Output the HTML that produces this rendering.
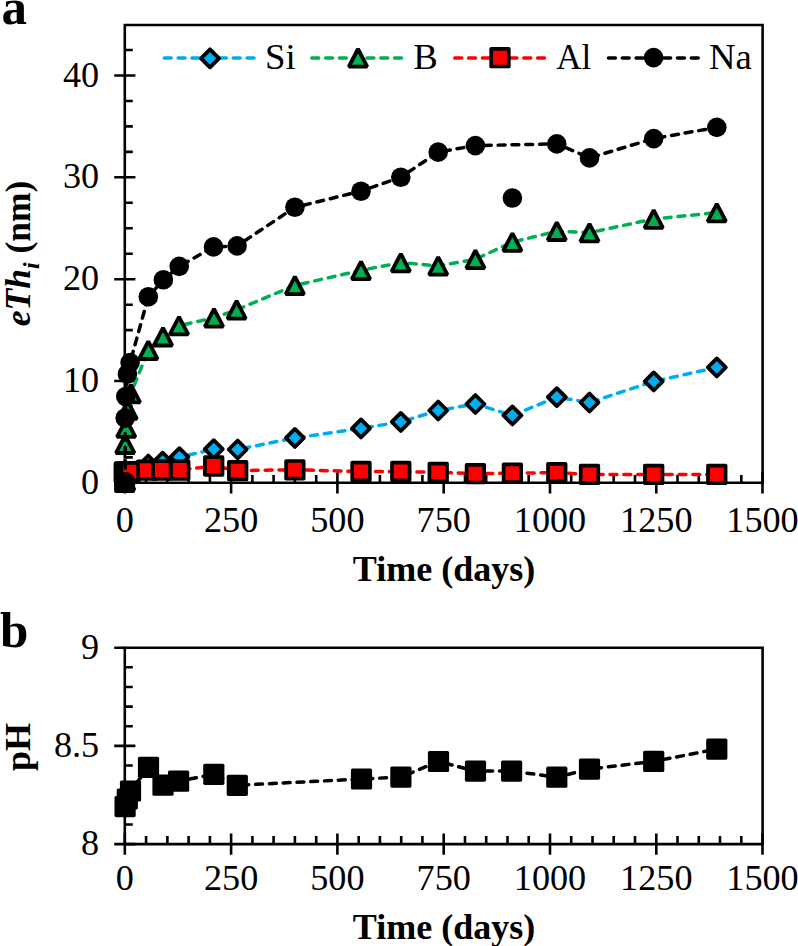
<!DOCTYPE html><html><head><meta charset="utf-8"><style>
html,body{margin:0;padding:0;background:#fff;}
svg{display:block;}
text{font-family:"Liberation Serif", serif;fill:#000;}
.t{font-size:35px;}
.ax{stroke:#000;stroke-width:2.6;fill:none;stroke-linecap:butt;}
.ls{fill:none;stroke:#00ACF0;stroke-width:3.5;stroke-dasharray:6.9 6.9;stroke-linecap:round;stroke-linejoin:round;}
.lb{fill:none;stroke:#00B050;stroke-width:3.5;stroke-dasharray:6.9 6.9;stroke-linecap:round;stroke-linejoin:round;}
.la{fill:none;stroke:#FF0000;stroke-width:3.5;stroke-dasharray:6.9 6.9;stroke-linecap:round;stroke-linejoin:round;}
.ln{fill:none;stroke:#000;stroke-width:3.5;stroke-dasharray:6.9 6.9;stroke-linecap:round;stroke-linejoin:round;}
.si{fill:#00ACF0;stroke:#000;stroke-width:3.8;stroke-linejoin:round;}
.b{fill:#00B050;stroke:#000;stroke-width:3.8;stroke-linejoin:bevel;}
.al{fill:#FF0000;stroke:#000;stroke-width:3.7;stroke-linejoin:round;}
.na{fill:#000;}.al0{fill:#000;stroke:#000;stroke-width:3.4;stroke-linejoin:round;}
.ph{fill:#000;stroke:#000;stroke-width:1;}
</style></head><body>
<svg width="798" height="946" viewBox="0 0 798 946">
<path class="ax" d="M124.8 25H762.6V482.7H124.8Z"/>
<path class="ax" d="M114.2 482.9H135.4M124.8 457.4H132.8M124.8 432.0H132.8M124.8 406.5H132.8M114.2 381.0H135.4M124.8 355.6H132.8M124.8 330.1H132.8M124.8 304.7H132.8M114.2 279.2H135.4M124.8 253.7H132.8M124.8 228.3H132.8M124.8 202.8H132.8M114.2 177.3H135.4M124.8 151.9H132.8M124.8 126.4H132.8M124.8 101.0H132.8M114.2 75.5H135.4M124.8 50.0H132.8M124.8 472.3V493.5M146.1 482.9V474.9M167.4 482.9V474.9M188.6 482.9V474.9M209.9 482.9V474.9M231.1 472.3V493.5M252.4 482.9V474.9M273.6 482.9V474.9M294.9 482.9V474.9M316.2 482.9V474.9M337.4 472.3V493.5M358.7 482.9V474.9M379.9 482.9V474.9M401.2 482.9V474.9M422.4 482.9V474.9M443.7 472.3V493.5M465.0 482.9V474.9M486.2 482.9V474.9M507.5 482.9V474.9M528.7 482.9V474.9M550.0 472.3V493.5M571.2 482.9V474.9M592.5 482.9V474.9M613.7 482.9V474.9M635.0 482.9V474.9M656.3 472.3V493.5M677.5 482.9V474.9M698.8 482.9V474.9M720.0 482.9V474.9M741.3 482.9V474.9M762.5 472.3V493.5"/>
<text class="t" transform="translate(99.2,493.9) scale(1.035,1)" text-anchor="end">0</text>
<text class="t" transform="translate(99.2,392.0) scale(1.035,1)" text-anchor="end">10</text>
<text class="t" transform="translate(99.2,290.2) scale(1.035,1)" text-anchor="end">20</text>
<text class="t" transform="translate(99.2,188.3) scale(1.035,1)" text-anchor="end">30</text>
<text class="t" transform="translate(99.2,86.5) scale(1.035,1)" text-anchor="end">40</text>
<text class="t" transform="translate(124.8,531.9) scale(1.035,1)" text-anchor="middle">0</text>
<text class="t" transform="translate(231.1,531.9) scale(1.035,1)" text-anchor="middle">250</text>
<text class="t" transform="translate(337.4,531.9) scale(1.035,1)" text-anchor="middle">500</text>
<text class="t" transform="translate(443.7,531.9) scale(1.035,1)" text-anchor="middle">750</text>
<text class="t" transform="translate(550.0,531.9) scale(1.035,1)" text-anchor="middle">1000</text>
<text class="t" transform="translate(656.3,531.9) scale(1.035,1)" text-anchor="middle">1250</text>
<text class="t" transform="translate(762.5,531.9) scale(1.035,1)" text-anchor="middle">1500</text>
<text x="444" y="580.5" text-anchor="middle" style="font-size:36px;font-weight:bold">Time (days)</text>
<text transform="translate(29.5,326.3) rotate(-90)" style="font-size:35.5px;font-weight:bold"><tspan style="font-style:italic">eTh</tspan><tspan style="font-style:italic;font-size:24px" dy="9">i</tspan><tspan dy="-9"> (nm)</tspan></text>
<text x="1.5" y="24.2" style="font-size:51px;font-weight:bold">a</text>
<text x="0" y="647" style="font-size:51px;font-weight:bold">b</text>
<polyline points="125.3,479.0 126.0,478.0 127.0,477.0 128.5,475.0 131.0,473.0 137.0,471.0 148.3,464.6 162.6,461.7 179.4,457.2 213.7,449.2 237.7,449.5 294.9,437.9 361.0,428.4 400.8,421.9 438.2,410.5 475.4,404.0 512.4,415.4 556.8,397.2 589.5,402.5 653.7,381.4 716.8,367.4" class="ls"/>
<path d="M125.3 470.0L134.3 479.0L125.3 488.0L116.3 479.0Z" class="si"/><path d="M126.0 469.0L135.0 478.0L126.0 487.0L117.0 478.0Z" class="si"/><path d="M127.0 468.0L136.0 477.0L127.0 486.0L118.0 477.0Z" class="si"/><path d="M128.5 466.0L137.5 475.0L128.5 484.0L119.5 475.0Z" class="si"/><path d="M131.0 464.0L140.0 473.0L131.0 482.0L122.0 473.0Z" class="si"/><path d="M137.0 462.0L146.0 471.0L137.0 480.0L128.0 471.0Z" class="si"/><path d="M148.3 455.6L157.3 464.6L148.3 473.6L139.3 464.6Z" class="si"/><path d="M162.6 452.7L171.6 461.7L162.6 470.7L153.6 461.7Z" class="si"/><path d="M179.4 448.2L188.4 457.2L179.4 466.2L170.4 457.2Z" class="si"/><path d="M213.7 440.2L222.7 449.2L213.7 458.2L204.7 449.2Z" class="si"/><path d="M237.7 440.5L246.7 449.5L237.7 458.5L228.7 449.5Z" class="si"/><path d="M294.9 428.9L303.9 437.9L294.9 446.9L285.9 437.9Z" class="si"/><path d="M361.0 419.4L370.0 428.4L361.0 437.4L352.0 428.4Z" class="si"/><path d="M400.8 412.9L409.8 421.9L400.8 430.9L391.8 421.9Z" class="si"/><path d="M438.2 401.5L447.2 410.5L438.2 419.5L429.2 410.5Z" class="si"/><path d="M475.4 395.0L484.4 404.0L475.4 413.0L466.4 404.0Z" class="si"/><path d="M512.4 406.4L521.4 415.4L512.4 424.4L503.4 415.4Z" class="si"/><path d="M556.8 388.2L565.8 397.2L556.8 406.2L547.8 397.2Z" class="si"/><path d="M589.5 393.5L598.5 402.5L589.5 411.5L580.5 402.5Z" class="si"/><path d="M653.7 372.4L662.7 381.4L653.7 390.4L644.7 381.4Z" class="si"/><path d="M716.8 358.4L725.8 367.4L716.8 376.4L707.8 367.4Z" class="si"/>
<polyline points="125.3,481.0 125.2,444.2 126.2,428.1 127.7,410.0 130.9,393.5 148.3,350.2 163.0,336.7 179.0,325.6 214.0,317.8 236.6,309.8 294.9,285.4 361.0,270.4 400.8,262.6 438.2,265.9 475.4,259.3 512.4,242.1 556.8,231.2 589.5,232.6 653.7,219.0 716.8,212.6" class="lb"/>
<path d="M125.3 472.2L134.5 489.8L116.1 489.8Z" class="b"/><path d="M125.2 435.4L134.4 453.0L116.0 453.0Z" class="b"/><path d="M126.2 419.3L135.4 436.9L117.0 436.9Z" class="b"/><path d="M127.7 401.2L136.9 418.8L118.5 418.8Z" class="b"/><path d="M130.9 384.7L140.1 402.3L121.7 402.3Z" class="b"/><path d="M148.3 341.4L157.5 359.0L139.1 359.0Z" class="b"/><path d="M163.0 327.9L172.2 345.5L153.8 345.5Z" class="b"/><path d="M179.0 316.8L188.2 334.4L169.8 334.4Z" class="b"/><path d="M214.0 309.0L223.2 326.6L204.8 326.6Z" class="b"/><path d="M236.6 301.0L245.8 318.6L227.4 318.6Z" class="b"/><path d="M294.9 276.6L304.1 294.2L285.7 294.2Z" class="b"/><path d="M361.0 261.6L370.2 279.2L351.8 279.2Z" class="b"/><path d="M400.8 253.8L410.0 271.4L391.6 271.4Z" class="b"/><path d="M438.2 257.1L447.4 274.7L429.0 274.7Z" class="b"/><path d="M475.4 250.5L484.6 268.1L466.2 268.1Z" class="b"/><path d="M512.4 233.3L521.6 250.9L503.2 250.9Z" class="b"/><path d="M556.8 222.4L566.0 240.0L547.6 240.0Z" class="b"/><path d="M589.5 223.8L598.7 241.4L580.3 241.4Z" class="b"/><path d="M653.7 210.2L662.9 227.8L644.5 227.8Z" class="b"/><path d="M716.8 203.8L726.0 221.4L707.6 221.4Z" class="b"/>
<polyline points="124.6,482.5 124.6,472.0 130.2,471.6 146.8,470.2 161.8,470.0 179.8,470.0 213.7,466.0 237.7,470.6 294.9,469.8 361.0,471.5 400.8,471.5 438.2,472.4 475.4,473.7 512.4,473.2 556.8,472.6 589.5,474.4 653.7,474.4 716.8,474.4" class="la"/>
<rect x="115.8" y="473.7" width="17.6" height="17.6" class="al0"/><rect x="115.8" y="463.2" width="17.6" height="17.6" class="al"/><rect x="121.4" y="462.8" width="17.6" height="17.6" class="al"/><rect x="138.0" y="461.4" width="17.6" height="17.6" class="al"/><rect x="153.0" y="461.2" width="17.6" height="17.6" class="al"/><rect x="171.0" y="461.2" width="17.6" height="17.6" class="al"/><rect x="204.9" y="457.2" width="17.6" height="17.6" class="al"/><rect x="228.9" y="461.8" width="17.6" height="17.6" class="al"/><rect x="286.1" y="461.0" width="17.6" height="17.6" class="al"/><rect x="352.2" y="462.7" width="17.6" height="17.6" class="al"/><rect x="392.0" y="462.7" width="17.6" height="17.6" class="al"/><rect x="429.4" y="463.6" width="17.6" height="17.6" class="al"/><rect x="466.6" y="464.9" width="17.6" height="17.6" class="al"/><rect x="503.6" y="464.4" width="17.6" height="17.6" class="al"/><rect x="548.0" y="463.8" width="17.6" height="17.6" class="al"/><rect x="580.7" y="465.6" width="17.6" height="17.6" class="al"/><rect x="644.9" y="465.6" width="17.6" height="17.6" class="al"/><rect x="708.0" y="465.6" width="17.6" height="17.6" class="al"/>
<path d="M113.6 464Q113.6 461.5 116.5 461.5H121.5V482H113.6Z" fill="#000"/>
<polyline points="125.3,481.7 125.2,418.0 125.8,396.5 127.4,374.0 130.1,362.6 148.3,296.7 163.4,279.7 179.2,266.4 213.5,246.9 237.1,245.9 294.9,207.3 361.0,191.2 400.8,177.2 438.2,152.1 475.4,145.6 556.8,143.9 589.5,157.9 653.7,138.6 716.8,127.4" class="ln"/>
<circle cx="125.3" cy="481.7" r="9.8" class="na"/><circle cx="125.2" cy="418.0" r="9.8" class="na"/><circle cx="125.8" cy="396.5" r="9.8" class="na"/><circle cx="127.4" cy="374.0" r="9.8" class="na"/><circle cx="130.1" cy="362.6" r="9.8" class="na"/><circle cx="148.3" cy="296.7" r="9.8" class="na"/><circle cx="163.4" cy="279.7" r="9.8" class="na"/><circle cx="179.2" cy="266.4" r="9.8" class="na"/><circle cx="213.5" cy="246.9" r="9.8" class="na"/><circle cx="237.1" cy="245.9" r="9.8" class="na"/><circle cx="294.9" cy="207.3" r="9.8" class="na"/><circle cx="361.0" cy="191.2" r="9.8" class="na"/><circle cx="400.8" cy="177.2" r="9.8" class="na"/><circle cx="438.2" cy="152.1" r="9.8" class="na"/><circle cx="475.4" cy="145.6" r="9.8" class="na"/><circle cx="556.8" cy="143.9" r="9.8" class="na"/><circle cx="589.5" cy="157.9" r="9.8" class="na"/><circle cx="653.7" cy="138.6" r="9.8" class="na"/><circle cx="716.8" cy="127.4" r="9.8" class="na"/>
<circle cx="512.4" cy="198.0" r="9.8" class="na"/>
<line x1="164.3" y1="58" x2="254.3" y2="58" class="ls"/><path d="M210.0 49.3L219.0 58.3L210.0 67.3L201.0 58.3Z" class="si"/>
<text class="t" transform="translate(265.0,68.5) scale(1.05,1)" text-anchor="start">Si</text>
<line x1="311.8" y1="58" x2="403.2" y2="58" class="lb"/><path d="M358.0 49.0L367.2 66.6L348.8 66.6Z" class="b"/>
<text class="t" transform="translate(413.2,68.5) scale(1.05,1)" text-anchor="start">B</text>
<line x1="454.8" y1="58" x2="544.8" y2="58" class="la"/><rect x="491.2" y="48.9" width="17.6" height="17.6" class="al"/>
<text class="t" transform="translate(556.2,68.5) scale(1.0,1)" text-anchor="start">Al</text>
<line x1="608.5" y1="58" x2="698.5" y2="58" class="ln"/><circle cx="653.6" cy="57.6" r="9.8" class="na"/>
<text class="t" transform="translate(709.0,68.5) scale(1.05,1)" text-anchor="start">Na</text>
<path class="ax" d="M124.8 647.7H762.6V844.1H124.8Z"/>
<path class="ax" d="M114.2 844.1H135.4M124.8 824.5H132.8M124.8 804.8H132.8M124.8 785.2H132.8M124.8 765.5H132.8M114.2 745.9H135.4M124.8 726.3H132.8M124.8 706.6H132.8M124.8 687.0H132.8M124.8 667.3H132.8M114.2 647.7H124.8M124.8 833.5V854.7M146.1 844.1V836.1M167.4 844.1V836.1M188.6 844.1V836.1M209.9 844.1V836.1M231.1 833.5V854.7M252.4 844.1V836.1M273.6 844.1V836.1M294.9 844.1V836.1M316.2 844.1V836.1M337.4 833.5V854.7M358.7 844.1V836.1M379.9 844.1V836.1M401.2 844.1V836.1M422.4 844.1V836.1M443.7 833.5V854.7M465.0 844.1V836.1M486.2 844.1V836.1M507.5 844.1V836.1M528.7 844.1V836.1M550.0 833.5V854.7M571.2 844.1V836.1M592.5 844.1V836.1M613.7 844.1V836.1M635.0 844.1V836.1M656.3 833.5V854.7M677.5 844.1V836.1M698.8 844.1V836.1M720.0 844.1V836.1M741.3 844.1V836.1M762.5 833.5V854.7"/>
<text class="t" transform="translate(99.2,855.1) scale(1.035,1)" text-anchor="end">8</text>
<text class="t" transform="translate(99.2,756.9) scale(1.035,1)" text-anchor="end">8.5</text>
<text class="t" transform="translate(99.2,658.7) scale(1.035,1)" text-anchor="end">9</text>
<text class="t" transform="translate(124.8,889.5) scale(1.035,1)" text-anchor="middle">0</text>
<text class="t" transform="translate(231.1,889.5) scale(1.035,1)" text-anchor="middle">250</text>
<text class="t" transform="translate(337.4,889.5) scale(1.035,1)" text-anchor="middle">500</text>
<text class="t" transform="translate(443.7,889.5) scale(1.035,1)" text-anchor="middle">750</text>
<text class="t" transform="translate(550.0,889.5) scale(1.035,1)" text-anchor="middle">1000</text>
<text class="t" transform="translate(656.3,889.5) scale(1.035,1)" text-anchor="middle">1250</text>
<text class="t" transform="translate(762.5,889.5) scale(1.035,1)" text-anchor="middle">1500</text>
<text x="444" y="938.5" text-anchor="middle" style="font-size:36px;font-weight:bold">Time (days)</text>
<text transform="translate(29.5,771) rotate(-90)" style="font-size:36px;font-weight:bold">pH</text>
<polyline points="125.1,806.6 127.3,799.0 130.5,791.0 148.5,767.3 163.0,785.2 178.6,781.2 213.8,774.3 237.3,785.3 361.5,779.0 400.9,777.1 438.5,761.5 475.5,771.1 511.6,771.1 556.8,777.2 589.5,769.1 653.7,761.4 716.8,749.1" class="ln"/>
<rect x="114.5" y="796.0" width="21.2" height="21.2" rx="1.6" class="na"/><rect x="116.7" y="788.4" width="21.2" height="21.2" rx="1.6" class="na"/><rect x="119.9" y="780.4" width="21.2" height="21.2" rx="1.6" class="na"/><rect x="137.9" y="756.7" width="21.2" height="21.2" rx="1.6" class="na"/><rect x="152.4" y="774.6" width="21.2" height="21.2" rx="1.6" class="na"/><rect x="168.0" y="770.6" width="21.2" height="21.2" rx="1.6" class="na"/><rect x="203.2" y="763.7" width="21.2" height="21.2" rx="1.6" class="na"/><rect x="226.7" y="774.7" width="21.2" height="21.2" rx="1.6" class="na"/><rect x="350.9" y="768.4" width="21.2" height="21.2" rx="1.6" class="na"/><rect x="390.3" y="766.5" width="21.2" height="21.2" rx="1.6" class="na"/><rect x="427.9" y="750.9" width="21.2" height="21.2" rx="1.6" class="na"/><rect x="464.9" y="760.5" width="21.2" height="21.2" rx="1.6" class="na"/><rect x="501.0" y="760.5" width="21.2" height="21.2" rx="1.6" class="na"/><rect x="546.2" y="766.6" width="21.2" height="21.2" rx="1.6" class="na"/><rect x="578.9" y="758.5" width="21.2" height="21.2" rx="1.6" class="na"/><rect x="643.1" y="750.8" width="21.2" height="21.2" rx="1.6" class="na"/><rect x="706.2" y="738.5" width="21.2" height="21.2" rx="1.6" class="na"/>
</svg></body></html>
